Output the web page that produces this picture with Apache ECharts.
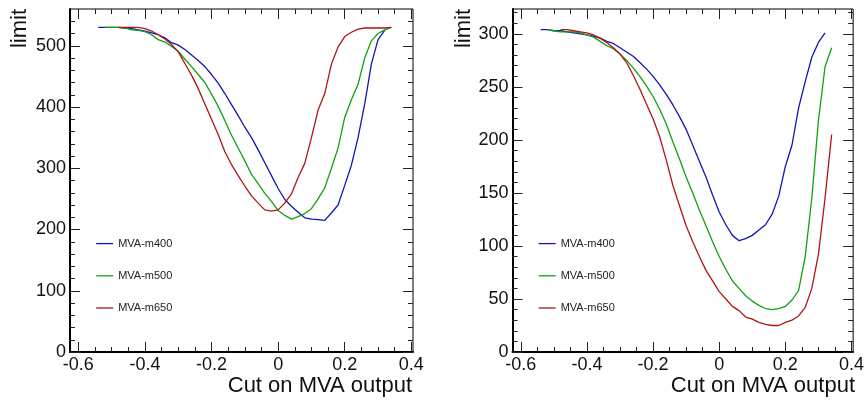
<!DOCTYPE html>
<html>
<head>
<meta charset="utf-8">
<script src="https://cdn.jsdelivr.net/npm/echarts@6/dist/echarts.min.js"></script>
<style>
  html, body { margin: 0; padding: 0; background: #ffffff; }
  #chart { width: 867px; height: 405px; }
</style>
</head>
<body>
<div id="chart"></div>
<script>
// Cut values scanned on the MVA output
const cutValues = [
  -0.54, -0.52, -0.50, -0.48, -0.46, -0.44, -0.42, -0.40, -0.38, -0.36,
  -0.34, -0.32, -0.30, -0.28, -0.26, -0.24, -0.22, -0.20, -0.18, -0.16,
  -0.14, -0.12, -0.10, -0.08, -0.06, -0.04, -0.02, 0.00, 0.02, 0.04,
  0.06, 0.08, 0.10, 0.12, 0.14, 0.16, 0.18, 0.20, 0.22, 0.24,
  0.26, 0.28, 0.30, 0.32, 0.34
];

const seriesNames = ['MVA-m400', 'MVA-m500', 'MVA-m650'];

// Left pad: limit vs. cut
const leftM400 = [
  530, 530, 530, 530, 529, 528, 526, 524, 521, 518,
  513, 505, 501, 494, 485, 476, 466, 453, 439, 422,
  404, 386, 367, 350, 330, 309, 288, 267, 249, 238,
  228, 219, 217, 216, 215, 227, 240, 272, 305, 350,
  405, 470, 510, 525, null
];
const leftM500 = [
  null, 530, 530, 530, 529, 526, 525, 523, 518, 510,
  506, 499, 491, 478, 466, 453, 440, 421, 401, 378,
  354, 333, 312, 290, 275, 259, 246, 231, 223, 217,
  221, 226, 234, 250, 268, 300, 333, 383, 412, 437,
  480, 508, 520, 526, 530
];
const leftM650 = [
  null, null, null, 530, 530, 530, 530, 528, 524, 518,
  511, 502, 490, 471, 452, 430, 405, 380, 355, 327,
  306, 288, 271, 255, 243, 232, 230, 232, 243, 258,
  285, 308, 350, 395, 422, 470, 498, 515, 522, 527,
  529, 529, 529, 529, 530
];

// Right pad: limit vs. cut
const rightM400 = [
  304, 304, 303, 303, 302, 301, 300, 299, 298, 296,
  293, 291, 287, 283, 279, 273, 267, 260, 252, 243,
  233, 222, 210, 195, 180, 165, 148, 132, 120, 110,
  105, 107, 110, 115, 120, 130, 147, 175, 195, 230,
  255, 278, 292, 301, null
];
const rightM500 = [
  null, 304, 303, 302, 302, 302, 301, 299, 297, 293,
  289, 286, 281, 275, 268, 260, 251, 241, 229, 215,
  198, 182, 165, 150, 134, 119, 104, 90, 78, 67,
  60, 53, 48, 44, 41, 40, 41, 43, 49, 58,
  90, 145, 218, 269, 287
];
const rightM650 = [
  null, null, null, 304, 304, 303, 302, 301, 299, 296,
  292, 287, 281, 273, 261, 248, 234, 220, 203, 181,
  157, 138, 119, 104, 90, 77, 67, 57, 50, 43,
  39, 33, 31, 28, 26, 25, 25, 28, 30, 34,
  42, 60, 92, 145, 205
];

// Axis tick labels
const cutTickLabels = [-0.6, -0.4, -0.2, 0, 0.2, 0.4];
const cutMinorTicks = [-0.55, -0.5, -0.45, -0.35, -0.3, -0.25, -0.15, -0.1, -0.05,
  0.05, 0.1, 0.15, 0.25, 0.3, 0.35];
const leftLimitTicks = [0, 100, 200, 300, 400, 500];
const leftLimitMinor = [20, 40, 60, 80, 120, 140, 160, 180, 220, 240, 260, 280,
  320, 340, 360, 380, 420, 440, 460, 480, 520, 540];
const rightLimitTicks = [0, 50, 100, 150, 200, 250, 300];
const rightLimitMinor = [10, 20, 30, 40, 60, 70, 80, 90, 110, 120, 130, 140,
  160, 170, 180, 190, 210, 220, 230, 240, 260, 270, 280, 290, 310, 320];

const colors = ['#1414b4', '#12a012', '#b01414'];
const FONT = 'Liberation Sans, Arial, sans-serif';

function pairs(values) {
  const out = [];
  values.forEach(function (v, i) { if (v !== null) out.push([cutValues[i], v]); });
  return out;
}

function fmt(v) { return String(Math.round(v * 100) / 100); }

const cutMin = -0.625, cutMax = 0.405;

const hiddenLine = { show: false, onZero: false };
const tickStyle = { color: '#222', width: 1 };

// Four axes per side: labelled major ticks, minor ticks, and the mirrored ones on the opposite edge
function xAxesFor(gridIndex) {
  const base = { type: 'value', gridIndex: gridIndex, min: cutMin, max: cutMax,
    splitLine: { show: false }, axisLine: hiddenLine };
  return [
    Object.assign({}, base, { position: 'bottom',
      axisLine: { show: true, onZero: false, lineStyle: { color: '#000', width: 2 } },
      axisTick: { show: true, inside: true, length: 10, customValues: cutTickLabels, lineStyle: tickStyle },
      axisLabel: { show: true, customValues: cutTickLabels, formatter: fmt, margin: 4,
        color: '#111', fontSize: 18, fontFamily: FONT } }),
    Object.assign({}, base, { position: 'bottom',
      axisTick: { show: true, inside: true, length: 5, customValues: cutMinorTicks, lineStyle: tickStyle },
      axisLabel: { show: false } }),
    Object.assign({}, base, { position: 'top',
      axisTick: { show: true, inside: true, length: 10, customValues: cutTickLabels, lineStyle: tickStyle },
      axisLabel: { show: false } }),
    Object.assign({}, base, { position: 'top',
      axisTick: { show: true, inside: true, length: 5, customValues: cutMinorTicks, lineStyle: tickStyle },
      axisLabel: { show: false } })
  ];
}

function yAxesFor(gridIndex, max, major, minor) {
  const base = { type: 'value', gridIndex: gridIndex, min: 0, max: max,
    splitLine: { show: false }, axisLine: hiddenLine };
  return [
    Object.assign({}, base, { position: 'left',
      axisLine: { show: true, onZero: false, lineStyle: { color: '#000', width: 2 } },
      axisTick: { show: true, inside: true, length: 10, customValues: major, lineStyle: tickStyle },
      axisLabel: { show: true, customValues: major, formatter: fmt, margin: 4,
        color: '#111', fontSize: 18, fontFamily: FONT } }),
    Object.assign({}, base, { position: 'left',
      axisTick: { show: true, inside: true, length: 5, customValues: minor, lineStyle: tickStyle },
      axisLabel: { show: false } }),
    Object.assign({}, base, { position: 'right',
      axisTick: { show: true, inside: true, length: 10, customValues: major, lineStyle: tickStyle },
      axisLabel: { show: false } }),
    Object.assign({}, base, { position: 'right',
      axisTick: { show: true, inside: true, length: 5, customValues: minor, lineStyle: tickStyle },
      axisLabel: { show: false } })
  ];
}

function lineSeries(name, values, colorIndex, axisOffset) {
  return {
    type: 'line', name: name, data: pairs(values),
    xAxisIndex: axisOffset, yAxisIndex: axisOffset,
    showSymbol: false, symbol: 'none', smooth: false,
    lineStyle: { color: colors[colorIndex], width: 1.3 },
    itemStyle: { color: colors[colorIndex] },
    emphasis: { disabled: true }
  };
}

function legendFor(left) {
  return {
    data: seriesNames, orient: 'vertical', left: left, top: 233,
    itemWidth: 17, itemHeight: 14, itemGap: 21,
    itemStyle: { opacity: 0 },
    lineStyle: { width: 1.3 },
    textStyle: { fontSize: 11, fontFamily: FONT, color: '#222', padding: [3, 0, 0, 0] },
    selectedMode: false
  };
}

const chart = echarts.init(document.getElementById('chart'), null, { renderer: 'canvas' });

chart.setOption({
  animation: false,
  backgroundColor: '#ffffff',
  grid: [
    { left: 70, top: 9, width: 343, height: 343, show: true, borderColor: '#000', borderWidth: 1, backgroundColor: 'transparent' },
    { left: 512.5, top: 9, width: 343.5, height: 343, show: true, borderColor: '#000', borderWidth: 1, backgroundColor: 'transparent' }
  ],
  xAxis: xAxesFor(0).concat(xAxesFor(1)),
  yAxis: yAxesFor(0, 560, leftLimitTicks, leftLimitMinor)
    .concat(yAxesFor(1, 323.5, rightLimitTicks, rightLimitMinor)),
  legend: [legendFor(90.5), legendFor(533)],
  series: [
    lineSeries(seriesNames[0], leftM400, 0, 0),
    lineSeries(seriesNames[1], leftM500, 1, 0),
    lineSeries(seriesNames[2], leftM650, 2, 0),
    lineSeries(seriesNames[0], rightM400, 0, 4),
    lineSeries(seriesNames[1], rightM500, 1, 4),
    lineSeries(seriesNames[2], rightM650, 2, 4)
  ],
  graphic: [
    { type: 'text', x: 412, y: 386, style: { text: 'Cut on MVA output', font: '22px ' + FONT, fill: '#111', align: 'right', verticalAlign: 'middle' } },
    { type: 'text', x: 855, y: 386, style: { text: 'Cut on MVA output', font: '22px ' + FONT, fill: '#111', align: 'right', verticalAlign: 'middle' } },
    { type: 'text', x: 19.5, y: 9, rotation: Math.PI / 2, style: { text: 'limit', font: '22px ' + FONT, fill: '#111', align: 'right', verticalAlign: 'middle' } },
    { type: 'text', x: 464, y: 9, rotation: Math.PI / 2, style: { text: 'limit', font: '22px ' + FONT, fill: '#111', align: 'right', verticalAlign: 'middle' } }
  ]
});
</script>
</body>
</html>
